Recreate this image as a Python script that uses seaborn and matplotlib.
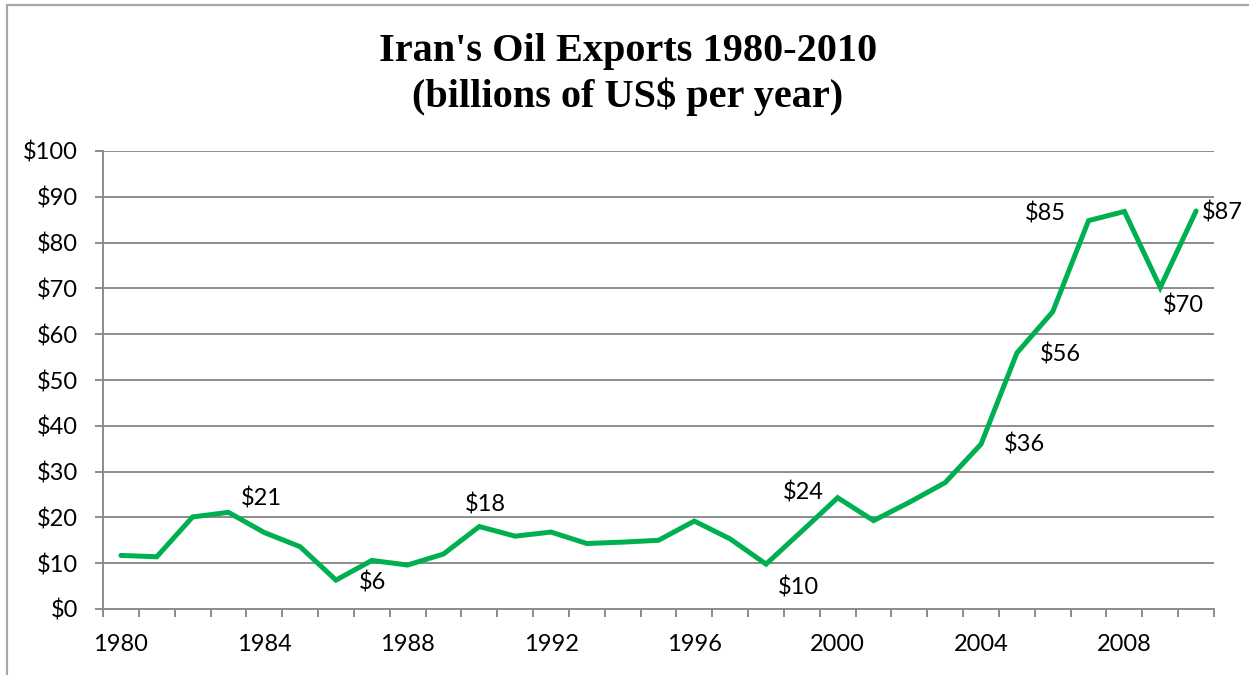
import matplotlib
matplotlib.use("Agg")
import matplotlib.pyplot as plt
from matplotlib.lines import Line2D
from matplotlib.ticker import FuncFormatter, MultipleLocator
import seaborn as sns
import pandas as pd

# Iran's oil export revenue, billions of US$ per year
years = list(range(1980, 2011))
exports = [11.7, 11.4, 20.1, 21.1, 16.7, 13.6, 6.3, 10.6, 9.6, 12.0,
           18.0, 15.9, 16.8, 14.3, 14.6, 15.0, 19.2, 15.3, 9.8, 17.0,
           24.3, 19.3, 23.3, 27.6, 36.0, 55.9, 64.9, 84.8, 86.8, 70.2,
           86.9]
labelled_years = [1983, 1986, 1990, 1998, 2000, 2004, 2005, 2007, 2009, 2010]
tick_years = [1980, 1984, 1988, 1992, 1996, 2000, 2004, 2008]

# where each value label sits relative to its point (points)
label_offsets = {1983: (24, 10), 1986: (26, -2), 1990: (4, 16),
                 1998: (23, -17), 2000: (-25, 4), 2004: (31, 0),
                 2005: (31, -1), 2007: (-31, 5), 2009: (17, -13),
                 2010: (19, -1)}

df = pd.DataFrame({"year": years, "exports": exports})

sns.set_theme(style="white")
plt.rcParams["font.family"] = ["Lato", "DejaVu Sans"]
plt.rcParams["text.color"] = "black"

GREEN = "#00B050"
GRID = "#8c8c8c"
FS = 17

fig = plt.figure(figsize=(12.49, 6.75), dpi=100)
ax = fig.add_axes([103 / 1249, 66 / 675, 1111 / 1249, 458 / 675])

sns.lineplot(data=df, x="year", y="exports", ax=ax, color=GREEN,
             linewidth=3.6, solid_joinstyle="miter")

ax.set_xlim(1979.5, 2010.5)
ax.set_ylim(0, 100)
ax.yaxis.set_major_locator(MultipleLocator(10))
ax.yaxis.set_major_formatter(FuncFormatter(lambda v, p: f"${v:.0f}"))
ax.set_xticks(tick_years)
ax.set_xticklabels([str(y) for y in tick_years])
ax.set_xticks([y - 0.5 for y in years] + [2010.5], minor=True)

ax.tick_params(axis="x", which="major", length=0, pad=18,
               labelsize=FS, labelcolor="black")
ax.tick_params(axis="x", which="minor", length=6, width=1.4,
               color=GRID, direction="out", bottom=True)
ax.tick_params(axis="y", which="major", length=6, width=1.4,
               color=GRID, direction="out", left=True, pad=12,
               labelsize=FS, labelcolor="black")

ax.grid(axis="y", color=GRID, linewidth=1.4)
ax.grid(axis="x", visible=False)
ax.set_axisbelow(True)
for side in ("top", "right"):
    ax.spines[side].set_visible(False)
for side in ("left", "bottom"):
    ax.spines[side].set_color(GRID)
    ax.spines[side].set_linewidth(1.4)
ax.set_xlabel("")
ax.set_ylabel("")

for yr in labelled_years:
    v = exports[years.index(yr)]
    ax.annotate(f"${v:.0f}", xy=(yr, v), xytext=label_offsets[yr],
                textcoords="offset points", ha="center", va="center",
                fontsize=FS, color="black", annotation_clip=False)

fig.text(628 / 1249, 1 - 52 / 675, "Iran's Oil Exports 1980-2010",
         ha="center", va="center", fontsize=29, fontweight="bold",
         color="black", family=["Liberation Serif", "DejaVu Serif"])
fig.text(628 / 1249, 1 - 97 / 675, "(billions of US$ per year)",
         ha="center", va="center", fontsize=29, fontweight="bold",
         color="black", family=["Liberation Serif", "DejaVu Serif"])

# chart-area border
fig.add_artist(Line2D([7 / 1249, 7 / 1249, 1.0], [0.0, 1 - 5 / 675, 1 - 5 / 675],
                      transform=fig.transFigure, color="#a6a6a6",
                      linewidth=1.6))

fig.savefig("out.png", dpi=100, facecolor="white")
